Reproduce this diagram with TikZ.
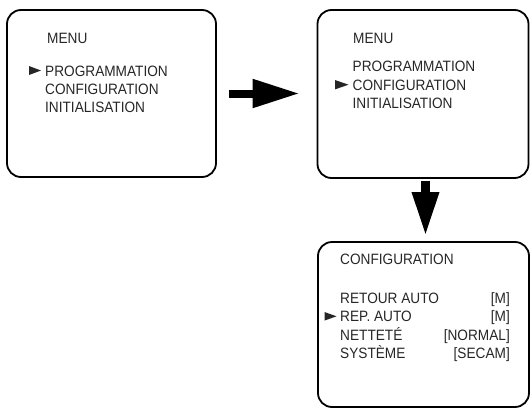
\documentclass[tikz,border=0pt]{standalone}
\usepackage{fontspec}
\setmainfont[FakeStretch=0.91]{Liberation Sans}
\usetikzlibrary{arrows.meta}
\tikzset{
  screen/.style={draw=black, line width=1.8pt, rounded corners=14pt, inner sep=0pt},
  txt/.style={anchor=base west, inner sep=0pt, text=black!85, font=\fontsize{15}{18}\selectfont},
  val/.style={anchor=base east, inner sep=0pt, text=black!85, font=\fontsize{15}{18}\selectfont},
  bigarrowh/.style={line width=8pt, -{Triangle[length=47pt,width=27pt]}},
  bigarrowv/.style={line width=9pt, -{Triangle[length=44pt,width=25pt]}},
  marker/.style={fill=black!85}
}
\begin{document}
\begin{tikzpicture}[x=1pt,y=-1pt]
\useasboundingbox (0,0) rectangle (531,410);
% screens
\node[screen, minimum width=209pt, minimum height=167pt] (b1) at (111.5,93.5) {};
\node[screen, minimum width=211pt, minimum height=168pt] (b2) at (423,94) {};
\node[screen, minimum width=211pt, minimum height=165pt] (b3) at (423.5,324.5) {};
% arrows
\draw[bigarrowh, shorten <=12pt, shorten >=17pt] (b1.east) -- (b1.east -| b2.west);
\draw[bigarrowv, shorten <=2pt, shorten >=5pt] (b2.south -| 425.5,0) -- (b3.north -| 425.5,0);
% box 1 text
\node[txt] (m1) at (47,43) {MENU};
\node[txt] (p1) at (45,76) {PROGRAMMATION};
\node[txt] (c1) at (45,94.3) {CONFIGURATION};
\node[txt] (i1) at (45,112.5) {INITIALISATION};
\fill[marker] (29,66) -- (41,70.5) -- (29,75) -- cycle;
% box 2 text
\node[txt] (m2) at (353,43.3) {MENU};
\node[txt] (p2) at (352.5,71.7) {PROGRAMMATION};
\node[txt] (c2) at (352.5,90) {CONFIGURATION};
\node[txt] (i2) at (352.5,108.3) {INITIALISATION};
\fill[marker] (335,80) -- (348.5,84.7) -- (335,89.4) -- cycle;
% box 3 text
\node[txt] (t3) at (340,264.3) {CONFIGURATION};
\node[txt] (r3) at (340,303.4) {RETOUR AUTO};
\node[txt] (a3) at (340,321.7) {REP. AUTO};
\node[txt] (n3) at (340,340) {NETTETÉ};
\node[txt] (s3) at (340,358.3) {SYSTÈME};
\node[val] (rv) at (510,303.4) {[M]};
\node[val] (av) at (510,321.7) {[M]};
\node[val] (nv) at (510,340) {[NORMAL]};
\node[val] (sv) at (510,358.3) {[SECAM]};
\fill[marker] (324.5,312) -- (336.5,316.3) -- (324.5,320.6) -- cycle;
\end{tikzpicture}
\end{document}
